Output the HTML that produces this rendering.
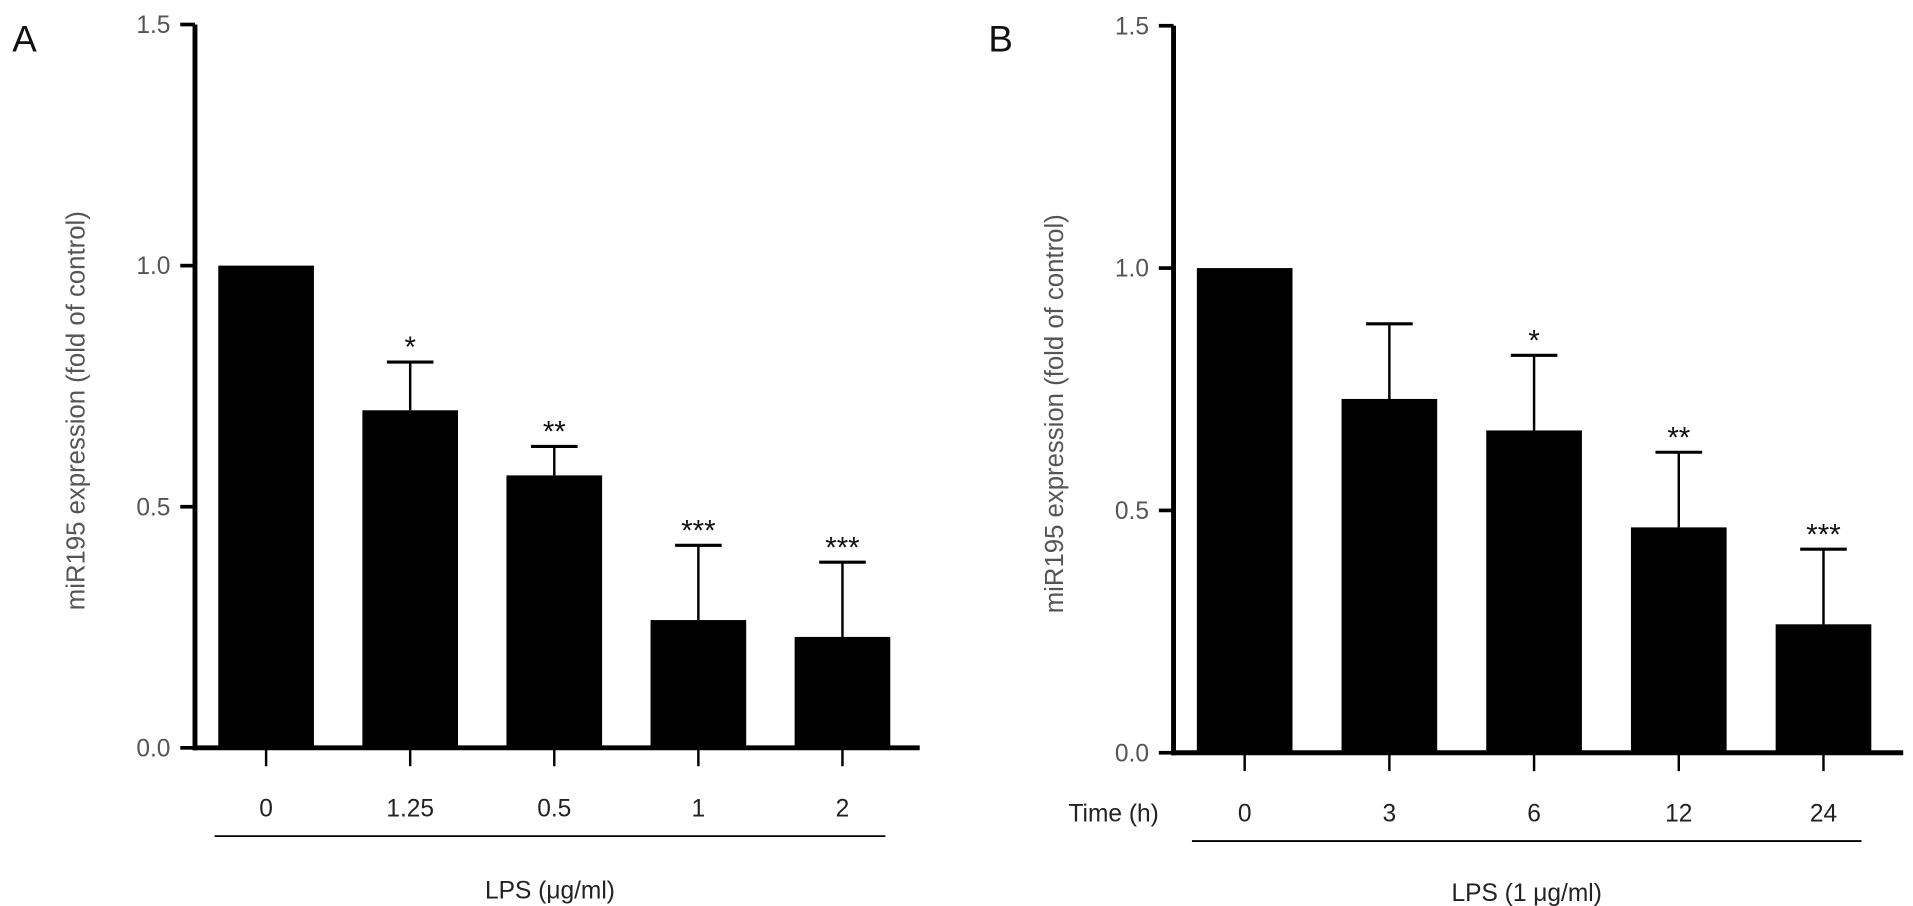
<!DOCTYPE html>
<html><head><meta charset="utf-8"><style>
html,body{margin:0;padding:0;background:#fff;}
svg{display:block;font-family:"Liberation Sans",sans-serif;}
</style></head><body>
<svg id="chart" width="1913" height="906" viewBox="0 0 1560 739" preserveAspectRatio="none" xmlns="http://www.w3.org/2000/svg"></svg>
<script>
const catsA = ["0","1.25","0.5","1","2"];
const valsA = [1.0, 0.70, 0.565, 0.265, 0.23];
const errA = [0, 0.10, 0.06, 0.155, 0.155];
const sigA = ["", "*", "**", "***", "***"];
const catsB = ["0","3","6","12","24"];
const valsB = [1.0, 0.73, 0.665, 0.465, 0.265];
const errB = [0, 0.155, 0.155, 0.155, 0.155];
const sigB = ["", "", "*", "**", "***"];
const yTicks = [0, 0.5, 1.0, 1.5];
const yTickLabels = ["0.0","0.5","1.0","1.5"];

const svg = document.getElementById('chart');
const NS = "http://www.w3.org/2000/svg";
function el(tag, attrs, text){
  const e = document.createElementNS(NS, tag);
  for (const k in attrs) e.setAttribute(k, attrs[k]);
  if (text !== undefined) e.textContent = text;
  svg.appendChild(e);
  return e;
}
function panel(p){
  const y = v => p.y0 - v * (p.y0 - p.y15) / 1.5;
  const x = i => p.firstX + i * p.step;
  const L = el('text', {x:p.letterX, y:42, 'font-size':30, fill:'#111'}, p.letter);
  
  
  const ya = el('line', {x1:p.axisX, y1:p.y15, x2:p.axisX, y2:p.y0+2, stroke:'#000','stroke-width':4});
  
  
  yTicks.forEach((t,i)=>{
    const tk = el('line', {x1:p.axisX-12, y1:y(t), x2:p.axisX, y2:y(t), stroke:'#000','stroke-width':3});
    
    
    const tl = el('text', {x:p.axisX-20, y:y(t)+7, 'font-size':20, fill:'#555','text-anchor':'end'}, yTickLabels[i]);
    
    
  });
  const yt = el('text', {x:0, y:0, 'font-size':21, fill:'#555','text-anchor':'middle', transform:`translate(${p.axisX-90},${(p.y0+p.y15)/2+20}) rotate(-90)`}, 'miR195 expression (fold of control)');
  
  
  p.vals.forEach((v,i)=>{
    const bx = x(i);
    const b = el('rect', {x:bx - p.bw/2, y:y(v), width:p.bw, height:p.y0 - y(v), fill:'#000'});
    
    
    if (p.err[i] > 0){
      const et = y(v + p.err[i]);
      const e1 = el('line', {x1:bx, y1:y(v), x2:bx, y2:et, stroke:'#000','stroke-width':2});
      
      
      const e2 = el('line', {x1:bx-19, y1:et, x2:bx+19, y2:et, stroke:'#000','stroke-width':2.5});
      
      
      if (p.sig[i]){
        const s = el('text', {x:bx, y:et-4, 'font-size':24, fill:'#111','text-anchor':'middle'}, p.sig[i]);
        
        
      }
    }
    const tk = el('line', {x1:bx, y1:p.y0, x2:bx, y2:p.y0+15, stroke:'#000','stroke-width':2});
    
    
    const xl = el('text', {x:bx, y:p.y0+56, 'font-size':20, fill:'#222','text-anchor':'middle'}, p.cats[i]);
    
    
  });
  const xa = el('line', {x1:p.axisX-2, y1:p.y0, x2:p.xEnd, y2:p.y0, stroke:'#000','stroke-width':4});
  
  
  const ul = el('line', {x1:p.ulX1, y1:p.y0+72, x2:p.ulX2, y2:p.y0+72, stroke:'#000','stroke-width':1.5});
  
  
  const xt = el('text', {x:(p.ulX1+p.ulX2)/2, y:p.titleY, 'font-size':20, fill:'#222','text-anchor':'middle','xml:space':'preserve'}, p.xTitle);
  
  
}
panel({letter:'A', letterX:10, axisX:159, y0:610, y15:20, firstX:217, step:117.5, bw:78,
  cats:catsA, vals:valsA, err:errA, sig:sigA, xEnd:750, ulX1:175, ulX2:722, titleY:733, xTitle:'LPS (\u03bcg/ml)'});
panel({letter:'B', letterX:806, axisX:957, y0:614, y15:21, firstX:1015, step:118, bw:78,
  cats:catsB, vals:valsB, err:errB, sig:sigB, xEnd:1552, ulX1:972, ulX2:1518, titleY:735, xTitle:'LPS  (1 \u03bcg/ml)'});
const th = el('text', {x:945, y:670, 'font-size':20, fill:'#222','text-anchor':'end'}, 'Time (h)');


</script>
</body></html>
